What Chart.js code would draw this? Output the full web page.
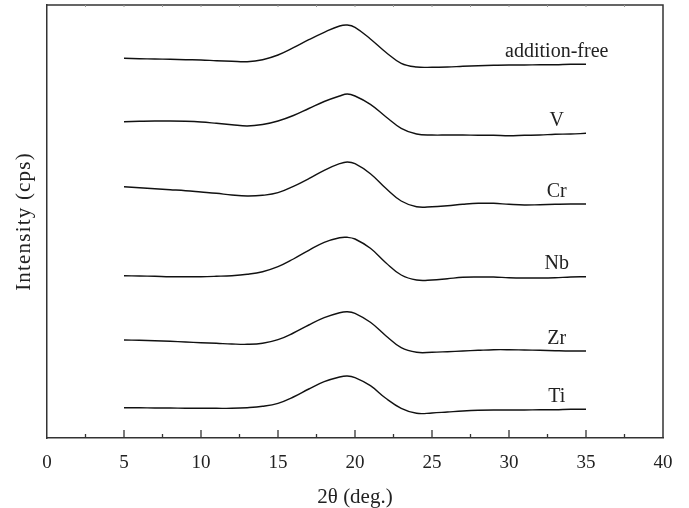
<!DOCTYPE html>
<html>
<head>
<meta charset="utf-8">
<script src="https://cdn.jsdelivr.net/npm/chart.js@4/dist/chart.umd.min.js"></script>
<style>
  html, body { margin: 0; padding: 0; background: #fff; }
  #wrap { width: 689px; height: 508px; }
</style>
</head>
<body>
<div id="wrap"><canvas id="xrdChart" width="689" height="508"></canvas></div>
<script>
// 2-theta positions (deg.)
var twoTheta = [5, 6, 7, 8, 9, 10, 11, 12, 13, 14, 15, 16, 17, 18, 19, 19.5, 20,
    21, 22, 23, 24, 25, 26, 27, 28, 29, 30, 31, 32, 33, 34, 35];

var seriesNames = ['addition-free', 'V', 'Cr', 'Nb', 'Zr', 'Ti'];

// intensity (cps, offset stacked)
var additionFree = [379.7, 379.3, 379, 378.7, 378.3, 378, 377.3, 376.7, 376.3, 378.3, 383, 390.3,
    398.3, 405.7, 412, 413, 410.7, 399, 385.7, 374.7, 371, 370.7, 371, 371.7, 372.3, 372.7,
    373, 373, 373.3, 373.3, 373.7, 373.7];
var vData = [316.3, 316.7, 317, 317, 316.7, 316, 314.7, 313.3, 312, 313.5, 317, 322.5,
    329.5, 336.5, 342, 344, 342, 333.7, 321.3, 309.7, 304, 303, 303, 303, 302.7, 302.7,
    302.3, 302.7, 303, 303.7, 304, 304.7];
var crData = [251.3, 250.3, 249.3, 248.3, 247.3, 246, 244.7, 243, 242, 242.7, 245.3, 251.7,
    259.3, 267.7, 274.3, 276, 274.3, 264.3, 249.7, 237, 231.3, 231.3, 232.3, 233.7, 234.7, 234.7,
    233.7, 233, 233.3, 233.7, 234, 234];
var nbData = [162.3, 162, 161.7, 161.3, 161.3, 161.3, 161.7, 162.3, 163.7, 166.3, 171.3, 179,
    187.7, 195.7, 200.3, 200.7, 199, 189.7, 175.3, 163, 158, 158, 159.3, 160.7, 161, 161,
    160.3, 160, 160, 160.3, 161, 161.3];
var zrData = [98, 97.7, 97.3, 96.7, 96, 95.3, 94.7, 94, 93.7, 94.7, 98.3, 105,
    113, 120.3, 125.3, 126.3, 124.7, 115.7, 102.3, 90.3, 85.7, 85.7, 86.3, 87, 87.7, 88.3,
    88.3, 88, 87.7, 87.3, 87, 87];
var tiData = [30.3, 30.3, 30, 30, 29.7, 29.7, 29.7, 29.7, 30.3, 31.7, 34.7, 41,
    49, 56.3, 61, 62, 60.3, 52.3, 39.7, 29.7, 24.7, 25, 26, 27, 27.7, 28, 28, 28, 28.3,
    28.3, 28.7, 28.7];

var allSeries = [additionFree, vData, crData, nbData, zrData, tiData];

var serif = '"Liberation Serif", "Times New Roman", serif';
var ink = '#222';
var axisColor = '#333';

var datasets = allSeries.map(function (vals, i) {
    return {
        label: seriesNames[i],
        data: vals.map(function (v, j) { return { x: twoTheta[j], y: v }; }),
        borderColor: '#111',
        borderWidth: 1.4,
        pointRadius: 0,
        fill: false,
        tension: 0.4
    };
});

// frame, inward tick marks, curve labels and y title
var decorPlugin = {
    id: 'decor',
    afterDraw: function (chart) {
        var ctx = chart.ctx;
        var area = chart.chartArea;
        var xs = chart.scales.x;
        var ys = chart.scales.y;
        ctx.save();

        ctx.strokeStyle = axisColor;
        ctx.lineWidth = 1.5;
        ctx.beginPath();
        ctx.moveTo(area.left, area.top);
        ctx.lineTo(area.right, area.top);
        ctx.lineTo(area.right, area.bottom);
        ctx.stroke();

        xs.ticks.forEach(function (t) {
            if (t.value <= 0 || t.value >= 40) return;
            var px = xs.getPixelForValue(t.value);
            var major = t.value % 5 === 0;
            ctx.lineWidth = 1.3;
            ctx.strokeStyle = axisColor;
            ctx.beginPath();
            ctx.moveTo(px, area.bottom);
            ctx.lineTo(px, area.bottom - (major ? 8 : 4));
            ctx.stroke();
            ctx.strokeStyle = '#999';
            ctx.lineWidth = 1;
            ctx.beginPath();
            ctx.moveTo(px, area.top);
            ctx.lineTo(px, area.top + 2);
            ctx.stroke();
        });

        ctx.fillStyle = ink;
        ctx.font = '20px ' + serif;
        ctx.textAlign = 'center';
        ctx.textBaseline = 'alphabetic';
        chart.data.datasets.forEach(function (ds) {
            var last = ds.data[ds.data.length - 1];
            ctx.fillText(ds.label, xs.getPixelForValue(33.1), ys.getPixelForValue(last.y) - 7.5);
        });

        ctx.translate(24, (area.top + area.bottom) / 2);
        ctx.rotate(-Math.PI / 2);
        ctx.textBaseline = 'middle';
        ctx.font = '21px ' + serif;
        ctx.letterSpacing = '1.2px';
        ctx.fillText('Intensity (cps)', 0, 0);
        ctx.restore();
    }
};

new Chart(document.getElementById('xrdChart').getContext('2d'), {
    type: 'line',
    data: { datasets: datasets },
    options: {
        responsive: false,
        animation: false,
        layout: { padding: { top: 5, right: 26, left: 0, bottom: 0 } },
        plugins: { legend: { display: false }, tooltip: { enabled: false } },
        scales: {
            x: {
                type: 'linear',
                min: 0,
                max: 40,
                grid: { display: false, drawTicks: false },
                border: { display: true, color: axisColor, width: 1.5 },
                ticks: {
                    stepSize: 2.5,
                    autoSkip: false,
                    maxRotation: 0,
                    padding: 14,
                    color: ink,
                    font: { family: serif, size: 19 },
                    callback: function (v) { return v % 5 === 0 ? v : ''; }
                },
                title: {
                    display: true,
                    text: '2θ (deg.)',
                    color: ink,
                    font: { family: serif, size: 21 },
                    padding: { top: 9, bottom: -2 }
                },
                afterFit: function (scale) { scale.height = 70; }
            },
            y: {
                min: 0,
                max: 433,
                grid: { display: false, drawTicks: false },
                border: { display: true, color: axisColor, width: 1.5 },
                ticks: { display: false },
                afterFit: function (scale) { scale.width = 47; }
            }
        }
    },
    plugins: [decorPlugin]
});
</script>
</body>
</html>
